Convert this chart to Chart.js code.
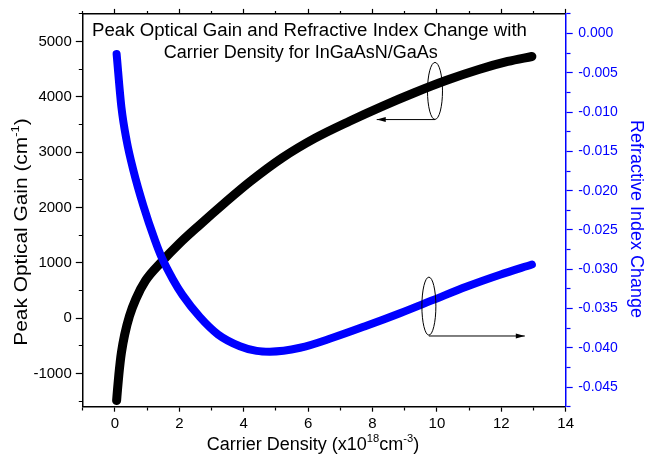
<!DOCTYPE html>
<html>
<head>
<meta charset="utf-8">
<script src="https://cdn.jsdelivr.net/npm/chart.js@4.4.0/dist/chart.umd.min.js"></script>
<style>
html,body{margin:0;padding:0;background:#fff;}
canvas{display:block;}
</style>
</head>
<body>
<canvas id="c" width="647" height="455"></canvas>
<script>
// ---- Data ----
const gainDensity = [0.05, 0.08, 0.12, 0.16, 0.2, 0.3, 0.45, 0.65, 0.95, 1.45, 2.0, 2.6, 3.4, 4.2, 5.2, 6.2, 7.3, 8.3, 9.3, 10.3, 11.3, 12.2, 12.95];
const peakGain    = [-1490, -1280, -1020, -800, -620, -300, 40, 350, 680, 1020, 1350, 1670, 2080, 2470, 2900, 3250, 3565, 3830, 4075, 4300, 4495, 4640, 4730];

const indexDensity = [0.05, 0.2, 0.36, 0.57, 0.88, 1.24, 1.45, 1.8, 2.1, 2.64, 3.2, 3.88, 4.4, 4.81, 5.75, 6.78, 7.81, 8.85, 9.89, 10.93, 11.96, 12.95];
const indexChange  = [-0.0026, -0.0094, -0.0136, -0.0174, -0.0219, -0.0263, -0.0285, -0.0313, -0.0333, -0.0361, -0.0383, -0.0398, -0.0404, -0.0405, -0.0400, -0.0387, -0.0372, -0.0356, -0.0339, -0.0322, -0.0307, -0.0294];

const xTickLabels     = [0, 2, 4, 6, 8, 10, 12, 14];
const gainTickLabels  = [-1000, 0, 1000, 2000, 3000, 4000, 5000];
const indexTickLabels = [0.000, -0.005, -0.010, -0.015, -0.020, -0.025, -0.030, -0.035, -0.040, -0.045];

const titleLines = ["Peak Optical Gain and Refractive Index Change with", "Carrier Density for InGaAsN/GaAs"];

// annotation anchors (data units)
const gainMarker  = {x: 9.94, y: 4108, arrowY: 3590, arrowTo: 8.13};
const indexMarker = {x: 9.75, y: -0.0347, arrowY: -0.0385, arrowTo: 12.73};

// ---- helpers ----
const FONT = "'Liberation Sans', Arial, sans-serif";
const BLUE = '#0000ff';
function isLabel(v, list) { return list.some(t => Math.abs(t - v) < 1e-9); }
function dashFor(isMinor, tl, minor, fromOuter) {
  if (!isMinor) return [];
  return fromOuter ? [0, tl - minor, minor, 200] : [minor, 200];
}
// major ticks from the label list plus one minor tick between neighbours
function withMinors(list, lo, hi) {
  const s = list.slice().sort((a, b) => a - b);
  const half = (s[1] - s[0]) / 2;
  const out = [];
  for (let k = Math.ceil((lo - s[0]) / half - 1e-9); ; k++) {
    const v = s[0] + k * half;
    if (v > hi + 1e-9) break;
    out.push({value: v});
  }
  return out;
}

function drawRich(ctx, x, y, parts, size, color, angle, align, stretch) {
  ctx.save();
  ctx.translate(x, y);
  ctx.rotate(angle);
  ctx.scale(stretch || 1, 1);
  ctx.fillStyle = color;
  ctx.textBaseline = 'alphabetic';
  ctx.textAlign = 'left';
  let total = 0;
  const ws = parts.map(p => {
    ctx.font = (p.sup ? size * 0.62 : size) + 'px ' + FONT;
    const w = ctx.measureText(p.t).width;
    total += w;
    return w;
  });
  let cx = align === 'center' ? -total / 2 : 0;
  parts.forEach((p, i) => {
    ctx.font = (p.sup ? size * 0.62 : size) + 'px ' + FONT;
    ctx.fillText(p.t, cx, p.sup ? -size * 0.42 : 0);
    cx += ws[i];
  });
  ctx.restore();
}

function arrow(ctx, x1, y, x2) {
  ctx.beginPath();
  ctx.moveTo(x1, y);
  ctx.lineTo(x2, y);
  ctx.stroke();
  const dir = x2 < x1 ? 1 : -1;
  ctx.beginPath();
  ctx.moveTo(x2, y);
  ctx.lineTo(x2 + dir * 9, y - 2.5);
  ctx.lineTo(x2 + dir * 9, y + 2.5);
  ctx.closePath();
  ctx.fill();
}

const decor = {
  id: 'decor',
  afterDraw(chart) {
    const ctx = chart.ctx;
    const sx = chart.scales.x, sy = chart.scales.y, sy2 = chart.scales.y2;
    // title lines
    drawRich(ctx, 309.5, 36, [{t: titleLines[0]}], 18, '#000', 0, 'center', 1.035);
    drawRich(ctx, 300.8, 58.3, [{t: titleLines[1]}], 18, '#000', 0, 'center');

    // axis titles
    drawRich(ctx, 313, 450, [
      {t: 'Carrier Density (x10'}, {t: '18', sup: true}, {t: 'cm'}, {t: '-3', sup: true}, {t: ')'}
    ], 18, '#000', 0, 'center');
    drawRich(ctx, 27, 232, [
      {t: 'Peak Optical Gain (cm'}, {t: '-1', sup: true}, {t: ')'}
    ], 18, '#000', -Math.PI / 2, 'center', 1.16);
    drawRich(ctx, 630.5, 219, [
      {t: 'Refractive Index Change'}
    ], 18, BLUE, Math.PI / 2, 'center');

    // annotations
    ctx.save();
    ctx.strokeStyle = '#000';
    ctx.fillStyle = '#000';
    ctx.lineWidth = 1;
    let cx = sx.getPixelForValue(gainMarker.x), cy = sy.getPixelForValue(gainMarker.y);
    ctx.beginPath(); ctx.ellipse(cx, cy, 7.5, 28.5, 0, 0, Math.PI * 2); ctx.stroke();
    arrow(ctx, cx, sy.getPixelForValue(gainMarker.arrowY), sx.getPixelForValue(gainMarker.arrowTo));
    cx = sx.getPixelForValue(indexMarker.x); cy = sy2.getPixelForValue(indexMarker.y);
    ctx.beginPath(); ctx.ellipse(cx, cy, 7, 29, 0, 0, Math.PI * 2); ctx.stroke();
    arrow(ctx, cx, sy2.getPixelForValue(indexMarker.arrowY), sx.getPixelForValue(indexMarker.arrowTo));
    ctx.restore();
  }
};

const gainData = gainDensity.map((x, i) => ({x, y: peakGain[i]}));
const indexData = indexDensity.map((x, i) => ({x, y: indexChange[i]}));

new Chart(document.getElementById('c'), {
  type: 'line',
  data: {
    datasets: [
      {
        label: 'Refractive Index Change', data: indexData, yAxisID: 'y2', xAxisID: 'x',
        borderColor: BLUE, backgroundColor: BLUE, borderWidth: 8, borderCapStyle: 'round',
        borderJoinStyle: 'round', pointRadius: 0, cubicInterpolationMode: 'monotone', order: 0
      },
      {
        label: 'Peak Optical Gain', data: gainData, yAxisID: 'y', xAxisID: 'x',
        borderColor: '#000', backgroundColor: '#000', borderWidth: 9, borderCapStyle: 'round',
        borderJoinStyle: 'round', pointRadius: 0, cubicInterpolationMode: 'monotone', order: 1
      }
    ]
  },
  options: {
    responsive: false,
    animation: false,
    devicePixelRatio: 1,
    layout: {padding: 0},
    plugins: {legend: {display: false}, tooltip: {enabled: false}, title: {display: false}},
    events: [],
    scales: {
      x: {
        type: 'linear', position: 'bottom', min: -1, max: 14,
        border: {display: true, color: '#000', width: 1.5},
        grid: {
          drawOnChartArea: false, drawTicks: true, tickLength: 5, tickColor: '#000', tickWidth: 1.2,
          tickBorderDash: c => dashFor(!isLabel(c.tick ? c.tick.value : 0, xTickLabels), 5, 3, false)
        },
        ticks: {
          autoSkip: false, maxRotation: 0, padding: 3, color: '#000',
          font: {family: FONT, size: 15},
          callback: v => isLabel(v, xTickLabels) ? String(v) : ''
        },
        afterBuildTicks: s => { s.ticks = withMinors(xTickLabels, -1, 14); },
        afterFit: s => { s.height = 48.3; }
      },
      x2: {
        type: 'linear', position: 'top', min: -1, max: 14,
        border: {display: true, color: '#000', width: 1.5},
        grid: {
          drawOnChartArea: false, drawTicks: true, tickLength: 5, tickColor: '#000', tickWidth: 1.2,
          tickBorderDash: c => dashFor(!isLabel(c.tick ? c.tick.value : 0, xTickLabels), 5, 3, true)
        },
        ticks: {autoSkip: false, display: false},
        afterBuildTicks: s => { s.ticks = withMinors(xTickLabels, -1, 14); },
        afterFit: s => { s.height = 13; }
      },
      y: {
        type: 'linear', position: 'left', min: -1600, max: 5500,
        border: {display: true, color: '#000', width: 1.5},
        grid: {
          drawOnChartArea: false, drawTicks: true, tickLength: 7, tickColor: '#000', tickWidth: 1.2,
          tickBorderDash: c => dashFor(!isLabel(c.tick ? c.tick.value : 0, gainTickLabels), 7, 4, true)
        },
        ticks: {
          autoSkip: false, padding: 4, color: '#000',
          font: {family: FONT, size: 15},
          callback: v => isLabel(v, gainTickLabels) ? String(v) : ''
        },
        afterBuildTicks: s => { s.ticks = withMinors(gainTickLabels, -1600, 5500); },
        afterFit: s => { s.width = 82.8; }
      },
      y2: {
        type: 'linear', position: 'right', min: -0.0475, max: 0.0025,
        border: {display: true, color: BLUE, width: 1.5},
        grid: {
          drawOnChartArea: false, drawTicks: true, tickLength: 7, tickColor: BLUE, tickWidth: 1.2,
          tickBorderDash: c => dashFor(!isLabel(c.tick ? c.tick.value : 0, indexTickLabels), 7, 4, false)
        },
        ticks: {
          autoSkip: false, padding: 5.5, color: BLUE,
          font: {family: FONT, size: 14},
          callback: v => isLabel(v, indexTickLabels) ? Math.abs(v) < 1e-12 ? '0.000' : v.toFixed(3) : ''
        },
        afterBuildTicks: s => { s.ticks = withMinors(indexTickLabels, -0.0475, 0.0025); },
        afterFit: s => { s.width = 81.3; }
      }
    }
  },
  plugins: [decor]
});
</script>
</body>
</html>
